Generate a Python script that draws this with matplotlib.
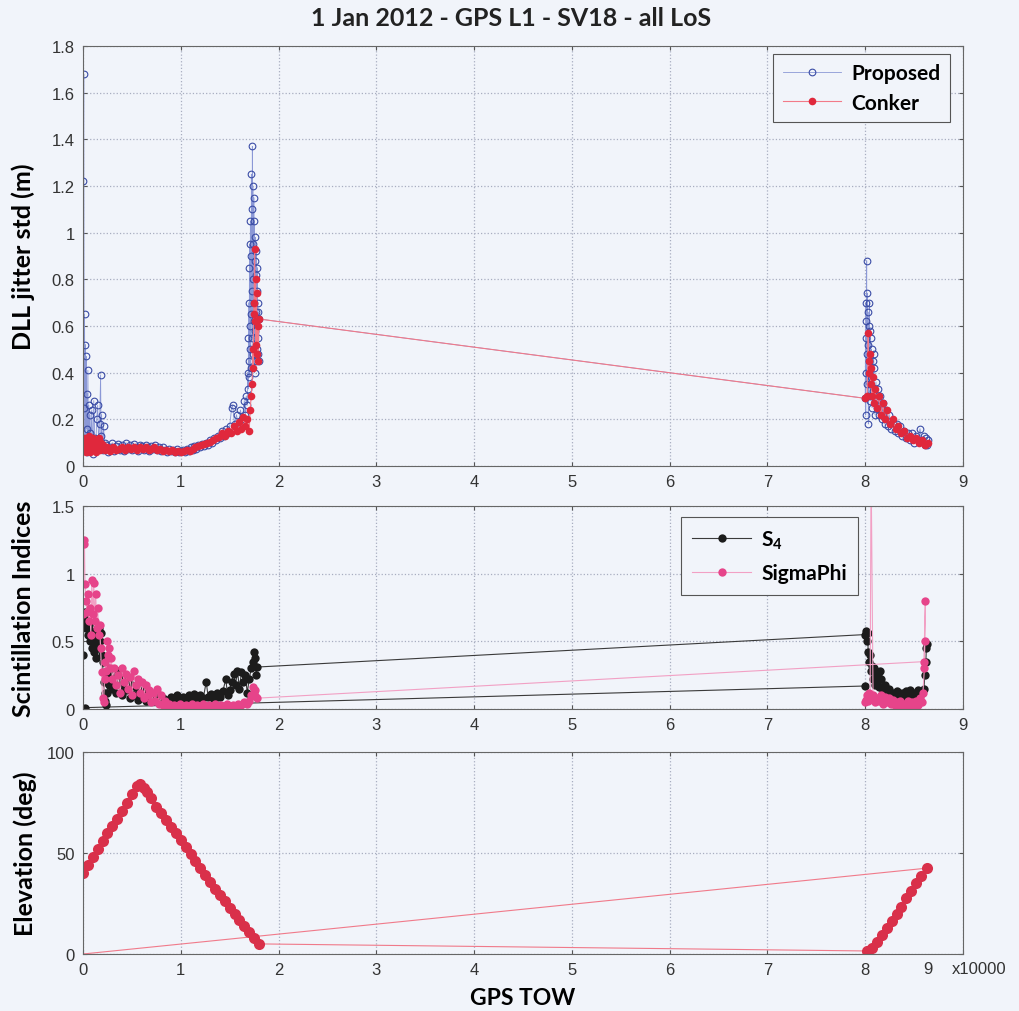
import numpy as np
import matplotlib
matplotlib.use("Agg")
import matplotlib.pyplot as plt

# --- data (GPS TOW in units of 10000 s) ---
# DLL jitter std, proposed method
prop_x = [0.000, 0.004, 0.008, 0.012, 0.016, 0.020, 0.024, 0.028, 0.032, 0.036, 0.040, 0.045,
          0.050, 0.055, 0.060, 0.065, 0.070, 0.075, 0.080, 0.090, 0.100, 0.110, 0.120, 0.130,
          0.140, 0.150, 0.160, 0.170, 0.180, 0.185, 0.190, 0.200, 0.210, 0.220,
          0.24, 0.26, 0.28, 0.30, 0.32, 0.34, 0.36, 0.38, 0.40, 0.42, 0.44, 0.46, 0.48, 0.50,
          0.52, 0.54, 0.56, 0.58, 0.60, 0.62, 0.64, 0.66, 0.68, 0.70, 0.72, 0.74, 0.76, 0.78,
          0.80, 0.82, 0.84, 0.86, 0.88, 0.90, 0.92, 0.94, 0.96, 0.98, 1.00, 1.02, 1.04, 1.06,
          1.08, 1.10, 1.12, 1.14, 1.16, 1.18, 1.20, 1.22, 1.24, 1.26, 1.28, 1.30, 1.32, 1.34,
          1.36, 1.38, 1.40, 1.42, 1.44, 1.46, 1.48, 1.50, 1.52, 1.53, 1.55, 1.57, 1.59, 1.61,
          1.63, 1.65, 1.66, 1.67, 1.68, 1.685, 1.69, 1.692, 1.695, 1.698, 1.700, 1.702, 1.705,
          1.707, 1.710, 1.712, 1.715, 1.717, 1.720, 1.722, 1.725, 1.727, 1.730, 1.732, 1.735,
          1.737, 1.740, 1.742, 1.745, 1.747, 1.750, 1.752, 1.755, 1.757, 1.760, 1.762, 1.765,
          1.767, 1.770, 1.772, 1.775, 1.777, 1.780, 1.782, 1.785, 1.787, 1.790, 1.792, 1.795,
          1.800,
          8.000, 8.003, 8.005, 8.008, 8.010, 8.012, 8.015, 8.018, 8.020, 8.022, 8.025, 8.028,
          8.030, 8.032, 8.035, 8.038, 8.040, 8.043, 8.045, 8.048, 8.050, 8.055, 8.060, 8.065,
          8.070, 8.075, 8.080, 8.085, 8.090, 8.095, 8.100, 8.110, 8.120, 8.130, 8.140, 8.150,
          8.160, 8.170, 8.180, 8.190, 8.200, 8.215, 8.230, 8.245, 8.260, 8.280, 8.300, 8.320,
          8.340, 8.360, 8.380, 8.400, 8.420, 8.440, 8.460, 8.480, 8.500, 8.520, 8.540, 8.560,
          8.580, 8.600, 8.610, 8.620, 8.630, 8.640]
prop_y = [0.12, 1.22, 1.68, 0.25, 0.65, 0.09, 0.52, 0.07, 0.47, 0.16, 0.31, 0.06,
          0.41, 0.11, 0.26, 0.07, 0.22, 0.14, 0.09, 0.24, 0.05, 0.28, 0.12, 0.07,
          0.20, 0.26, 0.10, 0.18, 0.39, 0.13, 0.22, 0.07, 0.17, 0.10,
          0.09, 0.06, 0.08, 0.10, 0.065, 0.085, 0.095, 0.07, 0.09, 0.065, 0.10, 0.075, 0.09, 0.07,
          0.095, 0.08, 0.065, 0.09, 0.085, 0.07, 0.09, 0.08, 0.065, 0.085, 0.075, 0.09, 0.07, 0.08,
          0.065, 0.08, 0.07, 0.06, 0.075, 0.065, 0.07, 0.06, 0.075, 0.06, 0.065, 0.07, 0.06, 0.075,
          0.065, 0.08, 0.07, 0.085, 0.075, 0.09, 0.08, 0.095, 0.085, 0.10, 0.09, 0.11, 0.10, 0.12,
          0.11, 0.13, 0.12, 0.15, 0.13, 0.16, 0.14, 0.17, 0.25, 0.26, 0.18, 0.22, 0.17, 0.24,
          0.20, 0.28, 0.22, 0.30, 0.26, 0.40, 0.33, 0.55, 0.45, 0.70, 0.38, 0.85, 0.50,
          0.95, 0.60, 1.05, 0.42, 0.90, 0.65, 1.25, 0.75, 1.10, 0.55, 1.37, 0.80,
          1.20, 0.48, 0.95, 0.62, 1.15, 0.70, 1.05, 0.40, 0.88, 0.58, 0.98, 0.45,
          0.82, 0.66, 0.92, 0.50, 0.75, 0.60, 0.85, 0.48, 0.70, 0.55, 0.66, 0.45,
          0.63,
          0.29, 0.55, 0.22, 0.70, 0.40, 0.62, 0.88, 0.35, 0.74, 0.48, 0.30, 0.66,
          0.52, 0.18, 0.60, 0.40, 0.45, 0.70, 0.35, 0.58, 0.28, 0.55, 0.38, 0.50,
          0.25, 0.45, 0.32, 0.48, 0.42, 0.28, 0.22, 0.36, 0.25, 0.33, 0.22, 0.30,
          0.24, 0.20, 0.27, 0.21, 0.18, 0.24, 0.17, 0.22, 0.16, 0.19, 0.15, 0.18,
          0.14, 0.17, 0.13, 0.15, 0.12, 0.14, 0.11, 0.14, 0.10, 0.13, 0.11, 0.16,
          0.11, 0.13, 0.09, 0.12, 0.09, 0.11]

# DLL jitter std, Conker model
conk_x = [0.00, 0.01, 0.02, 0.03, 0.04, 0.05, 0.06, 0.07, 0.08, 0.09, 0.10, 0.11, 0.12, 0.13,
          0.14, 0.15, 0.16, 0.17, 0.18, 0.19, 0.20, 0.22, 0.25, 0.28, 0.31, 0.34, 0.37, 0.40,
          0.43, 0.46, 0.49, 0.52, 0.55, 0.58, 0.61, 0.64, 0.67, 0.70, 0.73, 0.76, 0.79, 0.82,
          0.85, 0.88, 0.91, 0.94, 0.97, 1.00, 1.03, 1.06, 1.09, 1.12, 1.15, 1.18, 1.21, 1.24,
          1.27, 1.30, 1.33, 1.36, 1.39, 1.42, 1.45, 1.48, 1.51, 1.54, 1.57, 1.60, 1.62, 1.64,
          1.66, 1.68, 1.70, 1.71, 1.72, 1.73, 1.735, 1.74, 1.745, 1.75, 1.755, 1.76, 1.765,
          1.77, 1.775, 1.78, 1.785, 1.79, 1.80,
          8.00, 8.02, 8.03, 8.035, 8.04, 8.05, 8.055, 8.06, 8.07, 8.08, 8.09, 8.10, 8.12, 8.14,
          8.16, 8.18, 8.20, 8.22, 8.25, 8.28, 8.31, 8.34, 8.37, 8.40, 8.43, 8.46, 8.49, 8.52,
          8.55, 8.58, 8.61, 8.64]
conk_y = [0.10, 0.07, 0.12, 0.06, 0.11, 0.08, 0.13, 0.06, 0.10, 0.07, 0.12, 0.08, 0.10, 0.06,
          0.11, 0.08, 0.12, 0.07, 0.10, 0.08, 0.09, 0.07, 0.08, 0.065, 0.08, 0.07, 0.075, 0.08,
          0.07, 0.08, 0.075, 0.08, 0.07, 0.08, 0.075, 0.08, 0.07, 0.075, 0.08, 0.07, 0.075, 0.065,
          0.07, 0.065, 0.07, 0.06, 0.065, 0.06, 0.065, 0.07, 0.065, 0.075, 0.08, 0.085, 0.09, 0.095,
          0.10, 0.105, 0.11, 0.12, 0.125, 0.14, 0.13, 0.15, 0.14, 0.17, 0.15, 0.19, 0.16, 0.21,
          0.17, 0.20, 0.15, 0.24, 0.30, 0.35, 0.50, 0.42, 0.65, 0.70, 0.93, 0.62, 0.80,
          0.52, 0.74, 0.48, 0.60, 0.45, 0.63,
          0.29, 0.30, 0.57, 0.45, 0.40, 0.48, 0.35, 0.42, 0.30, 0.38, 0.27, 0.33, 0.25, 0.30,
          0.22, 0.27, 0.20, 0.24, 0.18, 0.20, 0.16, 0.17, 0.14, 0.15, 0.12, 0.13, 0.11, 0.12,
          0.10, 0.11, 0.09, 0.10]

# S4 index (first two points form a separate trace)
s4_x = [0.02, 8.00, np.nan,
        0.00, 0.01, 0.02, 0.03, 0.04, 0.05, 0.06, 0.07, 0.08, 0.09, 0.10, 0.11, 0.12, 0.13,
        0.14, 0.15, 0.16, 0.17, 0.18, 0.19, 0.20, 0.21, 0.22, 0.23, 0.24, 0.25, 0.26, 0.27,
        0.28, 0.30, 0.32, 0.34, 0.36, 0.38, 0.40, 0.42, 0.44, 0.46, 0.48, 0.50, 0.52, 0.54,
        0.56, 0.58, 0.60, 0.62, 0.64, 0.66, 0.68, 0.70, 0.72, 0.74, 0.76, 0.78, 0.80, 0.82,
        0.84, 0.86, 0.88, 0.90, 0.93, 0.96, 0.99, 1.02, 1.05, 1.08, 1.11, 1.14, 1.17, 1.20,
        1.23, 1.26, 1.28, 1.31, 1.34, 1.37, 1.40, 1.43, 1.46, 1.48, 1.50, 1.52, 1.54, 1.56,
        1.58, 1.60, 1.62, 1.64, 1.66, 1.68, 1.70, 1.72, 1.74, 1.75, 1.76, 1.77, 1.78,
        8.00, 8.01, 8.02, 8.025, 8.03, 8.04, 8.05, 8.06, 8.07, 8.08, 8.09, 8.10, 8.11, 8.12,
        8.13, 8.14, 8.15, 8.16, 8.18, 8.20, 8.22, 8.24, 8.26, 8.28, 8.30, 8.32, 8.34, 8.36,
        8.38, 8.40, 8.42, 8.44, 8.46, 8.48, 8.50, 8.52, 8.54, 8.56, 8.58, 8.60, 8.61, 8.62,
        8.625, 8.63]
s4_y = [0.01, 0.17, np.nan,
        0.40, 0.65, 0.72, 0.60, 0.68, 0.55, 0.62, 0.50, 0.58, 0.45, 0.52, 0.42, 0.48, 0.38,
        0.55, 0.45, 0.60, 0.50, 0.56, 0.40, 0.35, 0.20, 0.12, 0.06, 0.03, 0.12, 0.25, 0.18,
        0.30, 0.15, 0.25, 0.12, 0.28, 0.18, 0.10, 0.22, 0.14, 0.20, 0.08, 0.18, 0.10, 0.16,
        0.07, 0.14, 0.09, 0.12, 0.06, 0.10, 0.08, 0.11, 0.06, 0.09, 0.07, 0.10, 0.05, 0.08,
        0.04, 0.07, 0.05, 0.09, 0.08, 0.10, 0.07, 0.09, 0.06, 0.10, 0.08, 0.11, 0.07, 0.10,
        0.08, 0.20, 0.09, 0.11, 0.07, 0.12, 0.09, 0.13, 0.22, 0.10, 0.14, 0.20, 0.26, 0.18,
        0.28, 0.15, 0.27, 0.20, 0.25, 0.12, 0.22, 0.30, 0.35, 0.42, 0.38, 0.25, 0.31,
        0.55, 0.58, 0.50, 0.56, 0.42, 0.35, 0.40, 0.28, 0.32, 0.22, 0.30, 0.18, 0.25, 0.20,
        0.26, 0.16, 0.28, 0.22, 0.14, 0.18, 0.10, 0.15, 0.08, 0.12, 0.09, 0.13, 0.10, 0.08,
        0.12, 0.09, 0.13, 0.10, 0.14, 0.10, 0.12, 0.11, 0.14, 0.10, 0.12, 0.15, 0.25, 0.35,
        0.45, 0.48]

# SigmaPhi index (second pass logged backwards in time)
sp_x = [0.00, 0.01, 0.015, 0.02, 0.03, 0.04, 0.05, 0.06, 0.07, 0.08, 0.09, 0.10, 0.11, 0.12,
        0.13, 0.14, 0.15, 0.16, 0.17, 0.18, 0.19, 0.20, 0.21, 0.22, 0.23, 0.24, 0.25, 0.26,
        0.27, 0.28, 0.29, 0.30, 0.32, 0.34, 0.36, 0.38, 0.40, 0.42, 0.44, 0.46, 0.48, 0.50,
        0.52, 0.54, 0.56, 0.58, 0.60, 0.62, 0.64, 0.66, 0.68, 0.70, 0.72, 0.74, 0.76, 0.78,
        0.80, 0.82, 0.84, 0.86, 0.88, 0.90, 0.93, 0.96, 0.99, 1.02, 1.05, 1.08, 1.11, 1.14,
        1.17, 1.20, 1.23, 1.26, 1.29, 1.32, 1.35, 1.38, 1.41, 1.44, 1.47, 1.50, 1.53, 1.56,
        1.59, 1.62, 1.65, 1.68, 1.70, 1.72, 1.74, 1.75, 1.76, 1.77, 1.78,
        8.60, 8.615, 8.61, 8.605, 8.59, 8.58, 8.56, 8.54, 8.52, 8.50, 8.48, 8.46, 8.44, 8.42,
        8.40, 8.38, 8.36, 8.34, 8.32, 8.30, 8.28, 8.26, 8.24, 8.22, 8.20, 8.18, 8.16, 8.14,
        8.12, 8.10, 8.08, 8.06, 8.05, 8.04, 8.03, 8.02, 8.01, 8.00]
sp_y = [0.70, 1.25, 1.22, 0.92, 0.80, 0.72, 0.85, 0.65, 0.75, 0.55, 0.95, 0.70, 0.93, 0.65,
        0.85, 0.60, 0.75, 0.55, 0.62, 0.45, 0.27, 0.08, 0.05, 0.22, 0.35, 0.28, 0.50, 0.40,
        0.45, 0.30, 0.38, 0.22, 0.30, 0.18, 0.25, 0.12, 0.30, 0.20, 0.26, 0.15, 0.24, 0.10,
        0.28, 0.18, 0.22, 0.12, 0.20, 0.08, 0.18, 0.10, 0.14, 0.05, 0.12, 0.06, 0.15, 0.04,
        0.10, 0.03, 0.06, 0.02, 0.04, 0.02, 0.03, 0.02, 0.04, 0.02, 0.03, 0.02, 0.04, 0.02,
        0.03, 0.02, 0.04, 0.02, 0.03, 0.02, 0.04, 0.02, 0.03, 0.02, 0.04, 0.02, 0.03, 0.02,
        0.04, 0.03, 0.05, 0.04, 0.06, 0.10, 0.16, 0.12, 0.14, 0.09, 0.08,
        0.35, 0.80, 0.50, 0.30, 0.12, 0.05, 0.08, 0.03, 0.06, 0.02, 0.05, 0.03, 0.06, 0.02,
        0.04, 0.03, 0.06, 0.02, 0.05, 0.03, 0.07, 0.04, 0.08, 0.05, 0.09, 0.04, 0.10, 0.06,
        0.08, 0.05, 0.10, 1.80, 0.08, 0.12, 0.06, 0.10, 0.07, 0.05]

# satellite elevation (last sample wraps back to the start)
elev_x = [0.00, 0.05, 0.10, 0.15, 0.20, 0.25, 0.30, 0.35, 0.40, 0.45, 0.50, 0.55, 0.58,
          0.62, 0.65, 0.70, 0.75, 0.80, 0.85, 0.90, 0.95, 1.00, 1.05, 1.10, 1.15, 1.20,
          1.25, 1.30, 1.35, 1.40, 1.45, 1.50, 1.55, 1.60, 1.65, 1.70, 1.75, 1.80,
          8.02, 8.07, 8.12, 8.17, 8.22, 8.27, 8.32, 8.37, 8.42, 8.47, 8.52, 8.57, 8.63,
          0.00]
elev_y = [40, 44, 48, 52, 56, 60, 63.5, 67, 71, 75, 79, 83, 84,
          82, 80, 77, 73, 70, 66.5, 63, 60, 56.5, 53, 49.5, 46, 42.5,
          39, 35.5, 32, 29, 26, 23, 20, 17, 14, 11, 8, 5,
          1.5, 3, 6, 9.5, 13, 16.5, 20, 23.5, 27.5, 31, 35, 38.5, 42.5,
          0]

xticks = list(range(10))
title = "1 Jan 2012 - GPS L1 - SV18 - all LoS"

plt.rcParams['font.family'] = ['Liberation Sans', 'DejaVu Sans']
plt.rcParams['mathtext.fontset'] = 'custom'
plt.rcParams['mathtext.rm'] = 'Lato:bold'
plt.rcParams['mathtext.it'] = 'Lato:bold'
plt.rcParams['mathtext.bf'] = 'Lato:bold'

BG = '#f1f4fa'
BOLD = dict(family='Lato', weight='bold')

fig = plt.figure(figsize=(10.19, 10.12), dpi=100, facecolor=BG)
L, W = 83 / 1019, 880 / 1019
ax1 = fig.add_axes([L, 1 - 467 / 1012, W, 420 / 1012])
ax2 = fig.add_axes([L, 1 - 710 / 1012, W, 203 / 1012])
ax3 = fig.add_axes([L, 1 - 955 / 1012, W, 202 / 1012])

for ax in (ax1, ax2, ax3):
    ax.set_facecolor(BG)
    ax.set_xlim(0, 9)
    ax.set_xticks(xticks)
    ax.grid(True, color='#a8adc0', linestyle=':', linewidth=0.9)
    ax.tick_params(direction='in', length=3, top=True, right=True, labelsize=12,
                   colors='#555555', labelcolor='#333333', pad=6)
    for sp in ax.spines.values():
        sp.set_color('#666666')
        sp.set_linewidth(0.8)

leg_kw = dict(prop=dict(size=15, **BOLD), handlelength=2.8, handletextpad=0.5,
              borderaxespad=0, fancybox=False, framealpha=1, facecolor=BG,
              edgecolor='#555555')

# top: DLL jitter
ax1.plot(prop_x, prop_y, '-o', color='#8b98d6', lw=0.6, ms=4.8, mfc='none',
         mec='#3b4da6', mew=0.8, label='Proposed')
ax1.plot(conk_x, conk_y, '-o', color='#f27a88', lw=0.8, ms=5.5, mfc='#e0283c',
         mec='#e0283c', mew=0, label='Conker')
ax1.set_ylim(0, 1.8)
ax1.set_yticks([0, 0.2, 0.4, 0.6, 0.8, 1, 1.2, 1.4, 1.6, 1.8])
ax1.set_yticklabels(['0', '0.2', '0.4', '0.6', '0.8', '1', '1.2', '1.4', '1.6', '1.8'])
ax1.set_ylabel('DLL jitter std (m)', fontsize=18, **BOLD)
ax1.yaxis.set_label_coords(-0.054, 0.5)
leg1 = ax1.legend(loc='upper right', bbox_to_anchor=(0.985, 0.981), borderpad=0.45,
                  labelspacing=0.45, **leg_kw)
leg1.get_frame().set_linewidth(0.8)

# middle: scintillation indices
ax2.plot(s4_x, s4_y, '-o', color='#3a3a3a', lw=0.8, ms=6, mfc='#1c1c1c', mec='#1c1c1c',
         mew=0, label='S$_4$')
ax2.plot(sp_x, sp_y, '-o', color='#f2a0c4', lw=0.8, ms=6, mfc='#e6448a', mec='#e6448a',
         mew=0, label='SigmaPhi')
ax2.set_ylim(0, 1.5)
ax2.set_yticks([0, 0.5, 1, 1.5])
ax2.set_yticklabels(['0', '0.5', '1', '1.5'])
ax2.set_ylabel('Scintillation Indices', fontsize=18, **BOLD)
ax2.yaxis.set_label_coords(-0.054, 0.5)
leg2 = ax2.legend(loc='upper right', bbox_to_anchor=(0.881, 0.946), borderpad=0.55,
                  labelspacing=0.6, **leg_kw)
leg2.get_frame().set_linewidth(0.8)

# bottom: elevation
ax3.plot(elev_x, elev_y, '-o', color='#f07a8a', lw=0.8, ms=8, mfc='#d9304a', mec='#d9304a',
         mew=0, markevery=slice(0, len(elev_x) - 1))
ax3.set_ylim(0, 100)
ax3.set_yticks([0, 50, 100])
ax3.set_xticklabels([str(t) for t in xticks[:-1]] + [''])
ax3.set_ylabel('Elevation (deg)', fontsize=18, **BOLD)
ax3.yaxis.set_label_coords(-0.052, 0.5)
ax3.set_xlabel('GPS TOW', fontsize=16.5, **BOLD)
ax3.xaxis.set_label_coords(0.5, -0.165)
ax3.text(928 / 1019, 1 - 970 / 1012, '9', transform=fig.transFigure, fontsize=12,
         color='#333333', ha='center', va='center')
ax3.text(952 / 1019, 1 - 970 / 1012, 'x10000', transform=fig.transFigure, fontsize=12,
         color='#333333', ha='left', va='center')

fig.text(511 / 1019, 1 - 19 / 1012, title, ha='center', va='center', fontsize=18,
         color='#222222', **BOLD)

fig.savefig('out.png', dpi=100, facecolor=BG)
